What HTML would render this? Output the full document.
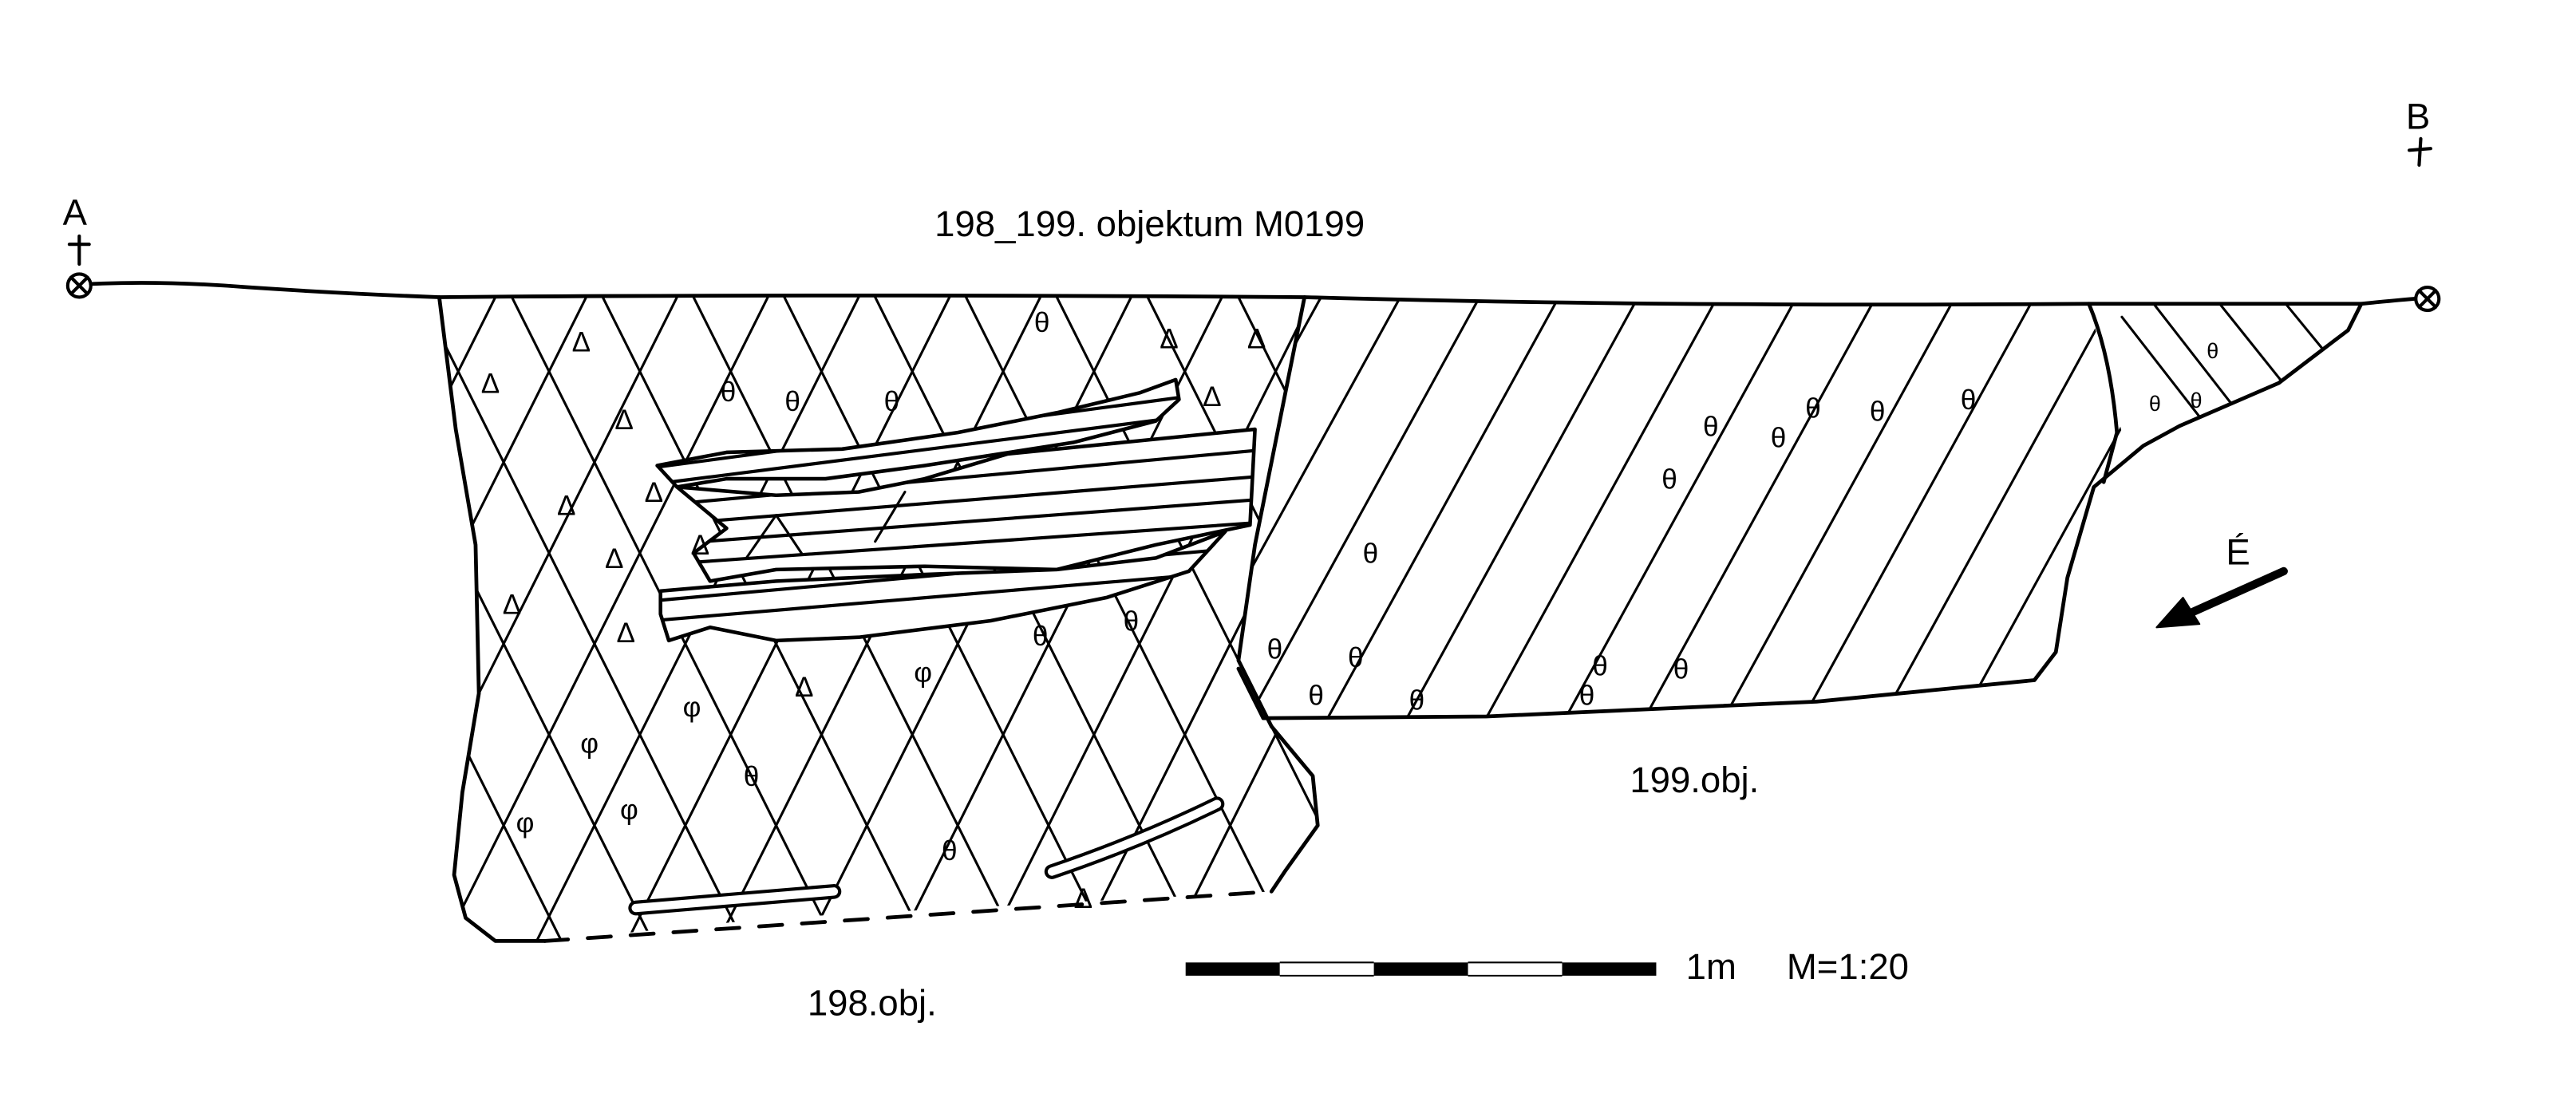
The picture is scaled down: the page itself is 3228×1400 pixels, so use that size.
<!DOCTYPE html>
<html><head><meta charset="utf-8"><style>
html,body{margin:0;padding:0;background:#fff;}
svg{display:block;}
text{font-family:"Liberation Sans",sans-serif;fill:#000;}
</style></head><body>
<svg width="3228" height="1400" viewBox="0 0 1560 676.6" preserveAspectRatio="none" xmlns="http://www.w3.org/2000/svg">
<defs>
<clipPath id="c198"><path d="M266,180 L790,180 L776,250 L760,330 L750,400 L770,440 L795,470 L798,500 L778,528 L770,540 L620,548 L470,556 L330,570 L300,570 L282,556 L275,530 L280,480 L290,420 L288,330 L276,260 Z"/></clipPath>
<clipPath id="c199"><path d="M790,180 L1000,184 L1265,184 L1285,262 L1268,295 L1252,350 L1245,395 L1232,412 L1100,425 L900,434 L765,435 L750,405 L760,330 L776,250 Z"/></clipPath>
<clipPath id="cR"><path d="M1265,184 L1430,184 L1422,200 L1380,232 L1320,258 L1298,270 L1285,262 Z"/></clipPath>
<clipPath id="cA"><path d="M398,282 L440,274 L510,272 L580,262 L640,250 L690,238 L712,230 L714,242 L700,255 L650,268 L560,282 L500,290 L440,290 L410,295 Z"/></clipPath>
<clipPath id="cB"><path d="M410,295 L470,300 L520,298 L560,290 L610,275 L680,268 L760,260 L757,318 L700,330 L640,345 L560,343 L470,345 L430,352 L420,335 L440,320 Z"/></clipPath>
<clipPath id="cC"><path d="M400,358 L470,352 L560,348 L640,345 L700,338 L742,322 L720,346 L670,362 L600,376 L520,386 L470,388 L430,380 L405,388 L400,372 Z"/></clipPath>
</defs>
<g fill="none" stroke="#000" stroke-linecap="round" stroke-linejoin="round">
<g clip-path="url(#c198)" stroke-width="1.5">
<path d="M300,180 l-200,400 M355,180 l-200,400 M410,180 l-200,400 M465,180 l-200,400 M520,180 l-200,400 M575,180 l-200,400 M630,180 l-200,400 M685,180 l-200,400 M740,180 l-200,400 M795,180 l-200,400 M850,180 l-200,400 M905,180 l-200,400 M960,180 l-200,400 M1015,180 l-200,400 M1070,180 l-200,400"/>
<path d="M90,180 l200,400 M145,180 l200,400 M200,180 l200,400 M255,180 l200,400 M310,180 l200,400 M365,180 l200,400 M420,180 l200,400 M475,180 l200,400 M530,180 l200,400 M585,180 l200,400 M640,180 l200,400 M695,180 l200,400 M750,180 l200,400"/>
</g>
<g clip-path="url(#c199)" stroke-width="1.5">
<path d="M800,180 l-140,255 M848,180 l-140,255 M896,180 l-140,255 M944,180 l-140,255 M992,180 l-140,255 M1040,180 l-140,255 M1088,180 l-140,255 M1136,180 l-140,255 M1184,180 l-140,255 M1232,180 l-140,255 M1280,180 l-140,255 M1328,180 l-140,255"/>
</g>
<g clip-path="url(#cR)" stroke-width="1.5">
<path d="M1285,192 l70,90 M1305,185 l70,90 M1345,185 l60,75 M1385,185 l45,55"/>
</g>
<g fill="#fff" stroke-width="2.2">
<path d="M410,295 L470,300 L520,298 L560,290 L610,275 L680,268 L760,260 L757,318 L700,330 L640,345 L560,343 L470,345 L430,352 L420,335 L440,320 Z"/>
<path d="M398,282 L440,274 L510,272 L580,262 L640,250 L690,238 L712,230 L714,242 L700,255 L650,268 L560,282 L500,290 L440,290 L410,295 Z"/>
<path d="M400,358 L470,352 L560,348 L640,345 L700,338 L742,322 L720,346 L670,362 L600,376 L520,386 L470,388 L430,380 L405,388 L400,372 Z"/>
</g>
<g stroke-width="2">
<g clip-path="url(#cA)"><path d="M390,284 L720,240 M390,294 L720,252"/></g>
<g clip-path="url(#cB)"><path d="M400,306 L770,272 M400,318 L770,288 M400,330 L770,302 M400,342 L770,316"/></g>
<g clip-path="url(#cC)"><path d="M395,364 L750,332 M395,376 L750,346"/></g>
<path d="M452,338 L470,312 L486,336 M530,328 L548,298" stroke-width="1.5"/>
</g>
<g stroke-width="2.3">
<path d="M55,172 Q100,170 150,174 Q210,178 266,180 Q500,178 790,180 Q1000,186 1265,184 L1430,184 Q1450,182 1462,181"/>
<path d="M266,180 L276,260 L288,330 L290,420 L280,480 L275,530 L282,556 L300,570 L330,570"/>
<path d="M790,180 L776,250 L760,330 L750,400 L770,440 L795,470 L798,500 L778,528 L770,540"/>
<path d="M330,570 L770,540" stroke-dasharray="14,12"/>
<path d="M765,435 L900,434 L1100,425 L1232,412 L1245,395 L1252,350 L1268,295 L1298,270 L1320,258 L1380,232 L1422,200 L1430,184"/>
<path d="M1265,184 Q1278,215 1282,262 L1274,292"/>
<path d="M765,435 L750,405"/>
</g>
<g>
<path d="M385,550 L505,540" stroke-width="9"/>
<path d="M385,550 L505,540" stroke="#fff" stroke-width="5"/>
<path d="M637,528 Q690,510 737,487" stroke-width="9"/>
<path d="M637,528 Q690,510 737,487" stroke="#fff" stroke-width="5"/>
</g>
<g stroke-width="2">
<circle cx="48" cy="173" r="7"/><path d="M43,168 L53,178 M53,168 L43,178"/>
<path d="M48,143 L48,160 M42,148 L54,148"/>
<circle cx="1470" cy="181" r="7"/><path d="M1465,176 L1475,186 M1475,176 L1465,186"/>
<path d="M1466,84 L1465,100 M1459,91 L1472,90"/>
</g>
<path d="M1383,346 L1325,372" stroke-width="5"/>
<path d="M1306,380 L1322,362 L1332,378 Z" fill="#000" stroke-width="1"/>
</g>
<g font-size="17" text-anchor="middle">
<text x="352" y="213">Δ</text><text x="297" y="238">Δ</text><text x="378" y="260">Δ</text><text x="343" y="312">Δ</text><text x="396" y="304">Δ</text><text x="424" y="336">Δ</text><text x="372" y="344">Δ</text><text x="310" y="372">Δ</text><text x="379" y="389">Δ</text><text x="487" y="422">Δ</text><text x="708" y="211">Δ</text><text x="761" y="211">Δ</text><text x="734" y="246">Δ</text><text x="656" y="550">Δ</text>
<text x="441" y="243">θ</text><text x="480" y="249">θ</text><text x="540" y="249">θ</text><text x="631" y="201">θ</text><text x="630" y="391">θ</text><text x="685" y="382">θ</text><text x="559" y="413">φ</text><text x="419" y="434">φ</text><text x="357" y="456">φ</text><text x="455" y="476">θ</text><text x="381" y="496">φ</text><text x="318" y="504">φ</text><text x="575" y="521">θ</text>
<text x="830" y="341">θ</text><text x="1011" y="296">θ</text><text x="1036" y="264">θ</text><text x="1077" y="271">θ</text><text x="1098" y="253">θ</text><text x="1137" y="255">θ</text><text x="1192" y="248">θ</text><text x="772" y="399">θ</text><text x="821" y="404">θ</text><text x="797" y="427">θ</text><text x="858" y="430">θ</text><text x="969" y="409">θ</text><text x="961" y="427">θ</text><text x="1018" y="411">θ</text>
</g>
<g font-size="13" text-anchor="middle"><text x="1340" y="217">θ</text><text x="1330" y="247">θ</text><text x="1305" y="249">θ</text></g>
<g font-size="22">
<text x="38" y="136">A</text>
<text x="1457" y="78">B</text>
<text x="566" y="143">198_199. objektum M0199</text>
<text x="987" y="480">199.obj.</text>
<text x="489" y="615">198.obj.</text>
<text x="1348" y="342">É</text>
<text x="1021" y="593">1m</text>
<text x="1082" y="593">M=1:20</text>
</g>
<rect x="718" y="583" width="285" height="8" fill="#fff"/>
<rect x="718" y="583" width="57" height="8" fill="#000"/>
<rect x="832" y="583" width="57" height="8" fill="#000"/>
<rect x="946" y="583" width="57" height="8" fill="#000"/>
<path d="M775,583 L832,583 M775,591 L832,591 M889,583 L946,583 M889,591 L946,591" stroke="#000" stroke-width="1"/>
</svg>
</body></html>
